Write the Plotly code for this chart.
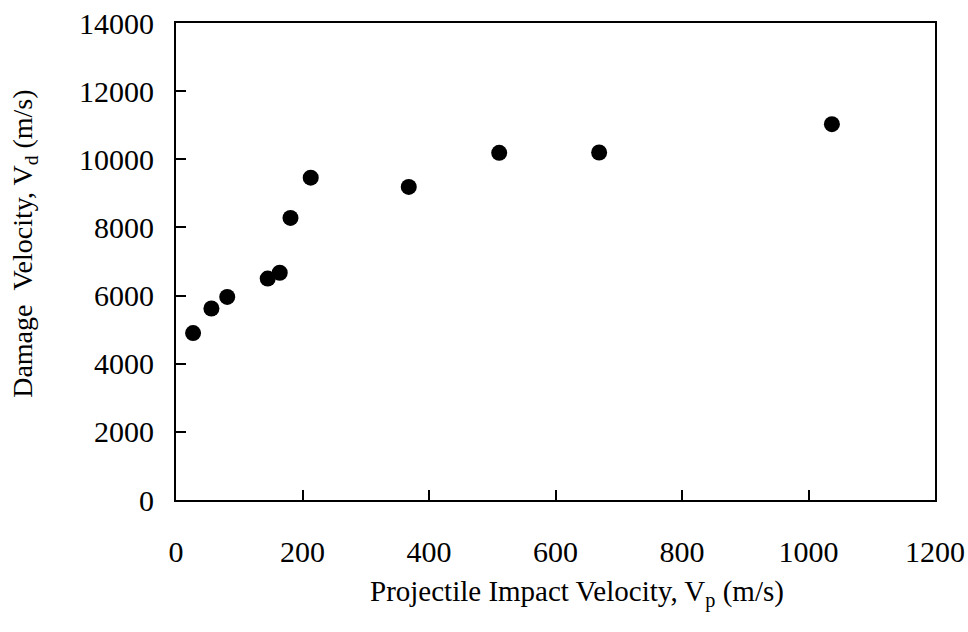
import plotly.graph_objects as go

# Projectile impact velocity (m/s) and measured damage velocity (m/s)
impact_velocity = [27, 56, 81, 145, 164, 181, 213, 368, 511, 669, 1037]
damage_velocity = [4900, 5620, 5960, 6500, 6670, 8280, 9460, 9190, 10190, 10200, 11030]

x_ticks = [0, 200, 400, 600, 800, 1000, 1200]
y_ticks = [0, 2000, 4000, 6000, 8000, 10000, 12000, 14000]

x_title = "Projectile Impact Velocity, V<sub>p</sub> (m/s)"
y_title = "Damage\u00a0\u00a0Velocity, V<sub>d</sub> (m/s)"

serif = "Liberation Serif, Times New Roman, serif"

fig = go.Figure(
    go.Scatter(
        x=impact_velocity,
        y=damage_velocity,
        mode="markers",
        marker=dict(color="black", size=16, line=dict(width=0)),
        showlegend=False,
    )
)

axis_common = dict(
    showgrid=False,
    zeroline=False,
    showline=True,
    linecolor="black",
    linewidth=2,
    mirror=True,
    ticks="inside",
    ticklen=10,
    tickwidth=1.5,
    tickcolor="black",
    tickfont=dict(family=serif, size=30, color="black"),
    automargin=False,
)

fig.update_xaxes(
    range=[0, 1200],
    tickvals=x_ticks,
    ticktext=[str(v) for v in x_ticks],
    ticklabelstandoff=24,
    **axis_common,
)
fig.update_yaxes(
    range=[0, 14000],
    tickvals=y_ticks,
    ticktext=[str(v) for v in y_ticks],
    ticklabelstandoff=14,
    **axis_common,
)

# Axis titles, placed slightly off-centre relative to the frame
fig.add_annotation(
    text=x_title, xref="paper", yref="paper",
    x=0.528, y=-0.195, xanchor="center", yanchor="middle",
    showarrow=False, font=dict(family=serif, size=29, color="black"),
)
fig.add_annotation(
    text=y_title, xref="paper", yref="paper",
    x=-0.199, y=0.537, xanchor="center", yanchor="middle", textangle=-90,
    showarrow=False, font=dict(family=serif, size=28, color="black"),
)

fig.update_layout(
    width=968,
    height=632,
    margin=dict(l=176, r=33, t=23, b=132),
    paper_bgcolor="white",
    plot_bgcolor="white",
)

fig.write_html("out.html")
